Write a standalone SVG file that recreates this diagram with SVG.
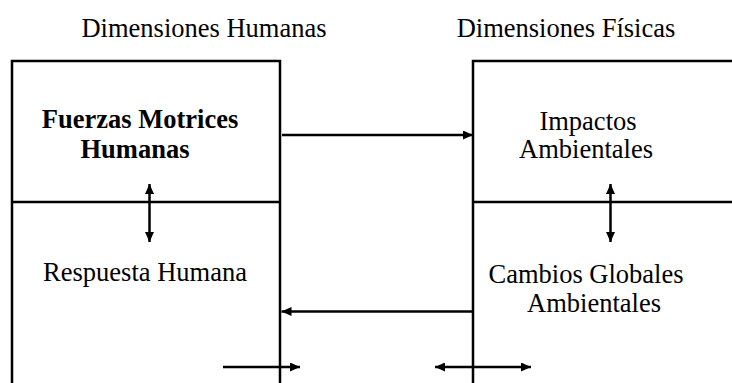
<svg xmlns="http://www.w3.org/2000/svg" width="732" height="383" viewBox="0 0 732 383">
  <style>
    .frame { fill: none; stroke: #000; stroke-width: 2.5; }
    .link { fill: none; stroke: #000; stroke-width: 2.5; }
    .t { font-family: "Liberation Serif", "Times New Roman", serif; font-size: 26.5px; fill: #000; text-anchor: middle; }
    .b { font-weight: bold; }
  </style>
  <defs>
    <marker id="head" viewBox="0 0 10 9" refX="10" refY="4.5" markerWidth="10" markerHeight="9" markerUnits="userSpaceOnUse" orient="auto-start-reverse">
      <path d="M0,0 L10,4.5 L0,9 Z" fill="#000"/>
    </marker>
  </defs>

  <rect width="732" height="383" fill="#fff"/>

  <!-- column headings -->
  <text class="t" x="204" y="37">Dimensiones Humanas</text>
  <text class="t" x="566" y="37">Dimensiones Físicas</text>

  <!-- human side -->
  <g id="human-column">
    <path class="frame" d="M12,383 V61 H280 V383 M12,202 H280"/>
  </g>
  <g id="fuerzas-motrices">
    <text class="t b" x="140" y="128">Fuerzas Motrices</text>
    <text class="t b" x="135" y="158">Humanas</text>
  </g>
  <g id="respuesta-humana">
    <text class="t" x="145" y="281">Respuesta Humana</text>
  </g>

  <!-- physical side -->
  <g id="physical-column">
    <path class="frame" d="M473,383 V61 H732 M473,202 H732"/>
  </g>
  <g id="impactos-ambientales">
    <text class="t" x="588" y="130">Impactos</text>
    <text class="t" x="586" y="158">Ambientales</text>
  </g>
  <g id="cambios-globales">
    <text class="t" x="586" y="283">Cambios Globales</text>
    <text class="t" x="594" y="312">Ambientales</text>
  </g>

  <!-- connectors -->
  <g id="connectors">
    <line class="link" x1="282" y1="135" x2="473" y2="135" marker-end="url(#head)"/>
    <line class="link" x1="473" y1="311.5" x2="281.5" y2="311.5" marker-end="url(#head)"/>
    <line class="link" x1="149.5" y1="184" x2="149.5" y2="242" marker-start="url(#head)" marker-end="url(#head)"/>
    <line class="link" x1="610.5" y1="184" x2="610.5" y2="242" marker-start="url(#head)" marker-end="url(#head)"/>
    <line class="link" x1="223" y1="367" x2="300" y2="367" marker-end="url(#head)"/>
    <line class="link" x1="435" y1="367" x2="531" y2="367" marker-start="url(#head)" marker-end="url(#head)"/>
  </g>
</svg>
